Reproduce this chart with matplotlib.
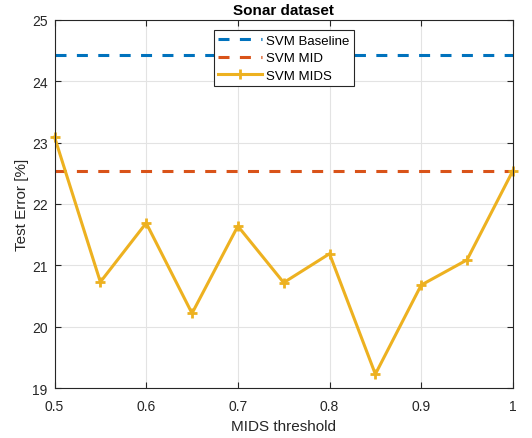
import matplotlib
matplotlib.use('Agg')
import matplotlib.pyplot as plt

plt.rcParams['font.family'] = ['Liberation Sans', 'DejaVu Sans']

thresholds = [0.5, 0.55, 0.6, 0.65, 0.7, 0.75, 0.8, 0.85, 0.9, 0.95, 1.0]
mids_error = [23.09, 20.73, 21.69, 20.22, 21.64, 20.72, 21.19, 19.23, 20.68, 21.09, 22.54]
baseline_error = 24.43
mid_error = 22.54

fig = plt.figure(figsize=(5.32, 4.39), dpi=100)
ax = fig.add_axes([0.1025, 0.1132, 0.8615, 0.8398])

dk = '#262626'
ax.plot([thresholds[0], thresholds[-1]], [baseline_error, baseline_error], color='#0072BD',
        lw=2.2, dashes=(3.6, 3.4), label='SVM Baseline')
ax.plot([thresholds[0], thresholds[-1]], [mid_error, mid_error], color='#D95319',
        lw=2.2, dashes=(3.6, 3.4), label='SVM MID')
ax.plot(thresholds, mids_error, color='#EDB120', lw=2.2, marker='+', ms=6.5, mew=2,
        label='SVM MIDS', clip_on=False)

ax.set_xlim(0.5, 1.0)
ax.set_ylim(19, 25)
ax.set_xticks([0.5, 0.6, 0.7, 0.8, 0.9, 1.0])
ax.set_xticklabels(['0.5', '0.6', '0.7', '0.8', '0.9', '1'])
ax.set_yticks(range(19, 26))
ax.grid(True, color='#E3E3E3', lw=0.8)
ax.set_axisbelow(True)
ax.tick_params(direction='in', top=True, right=True, length=4, width=0.8,
               colors=dk, labelsize=10, labelcolor=dk)
ax.tick_params(axis='x', pad=8)
ax.tick_params(axis='y', pad=5)
for s in ax.spines.values():
    s.set_color(dk)
    s.set_linewidth(0.8)

ax.set_xlabel('MIDS threshold', fontsize=11, color=dk, labelpad=4)
ax.set_ylabel('Test Error [%]', fontsize=11, color=dk, labelpad=2)
ax.set_title('Sonar dataset', fontsize=11, fontweight='bold', color='black', pad=4)

leg = ax.legend(loc='upper center', bbox_to_anchor=(0.5, 0.972), fontsize=9.5,
                fancybox=False, framealpha=1, edgecolor=dk, handlelength=3.3,
                borderpad=0.35, labelspacing=0.4, handletextpad=0.3, borderaxespad=0)
leg.get_frame().set_linewidth(0.8)

fig.savefig('out.png', dpi=100)
